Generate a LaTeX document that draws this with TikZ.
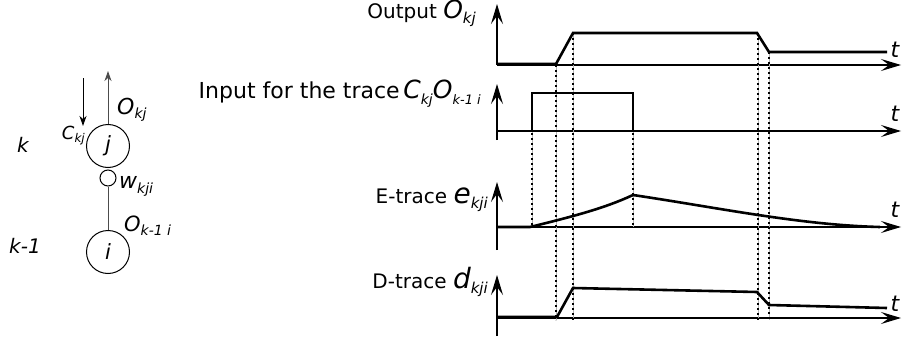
\documentclass[tikz,border=0pt]{standalone}
\usepackage{fontspec}
\setmainfont{DejaVu Sans}
\usetikzlibrary{arrows.meta}
\newcommand\mylbl[5]{{\fontsize{#1}{#1}\selectfont\itshape #3}\raisebox{-#5pt}{\fontsize{#2}{#2}\selectfont\itshape #4}}
\begin{document}
\begin{tikzpicture}[x=1pt,y=-1pt,
  axis/.style={line width=1.2pt,-{Stealth[length=20pt,width=12pt,inset=8pt]}},
  sig/.style={line width=2.6pt,line join=miter},
  guide/.style={line width=2pt,dash pattern=on 2pt off 3pt},
  guideline/.style={line width=0.5pt,black!30},
  conn/.style={line width=1pt,black!70},
  txt/.style={inner sep=0pt,font=\fontsize{20}{20}\selectfont},
  tl/.style={inner sep=0pt,font=\fontsize{22}{22}\selectfont\itshape}]
\useasboundingbox (0,0) rectangle (902,337);

% ---------- left neuron diagram ----------
\node[circle,draw,line width=1pt,minimum size=43pt,inner sep=0pt,font=\fontsize{21}{21}\selectfont\itshape] (j) at (108,146) {j};
\node[circle,draw,line width=1pt,minimum size=16pt,inner sep=0pt] (w) at (108,178) {};
\node[circle,draw,line width=1pt,minimum size=43pt,inner sep=0pt,font=\fontsize{21}{21}\selectfont\itshape] (i) at (108,252) {i};
\draw[conn] (w) -- (i);
\coordinate (otop) at (108,71);
\draw[conn,-{Stealth[length=10pt,width=7pt,inset=3pt]}] (j) -- (otop);
\coordinate (cs) at (83,78);
\coordinate (ce) at (83,126);
\draw[line width=1pt,-{Stealth[length=10pt,width=7pt,inset=3pt]}] (cs) -- (ce);
\node[inner sep=0pt,anchor=west] (okj) at (117,110) {\mylbl{22}{14}{O}{kj}{4}};
\node[inner sep=0pt,anchor=east] (ckj) at (85,136) {\mylbl{18}{12}{C}{kj}{3}};
\node[inner sep=0pt,anchor=west] (wkji) at (119,186) {\mylbl{22}{14}{w}{kji}{5}};
\node[inner sep=0pt,anchor=west] (oki) at (124,226) {\mylbl{21}{14}{O}{k-1 i}{4}};
\node[inner sep=0pt,font=\fontsize{20}{20}\selectfont\itshape] (k) at (23,145) {k};
\node[inner sep=0pt,font=\fontsize{20}{20}\selectfont\itshape] (k1) at (25,246) {k-1};

% ---------- axes ----------
\draw[axis] (497,65) -- (497,4);
\draw[axis] (497,65) -- (901,65);
\draw[axis] (497,140) -- (497,84);
\draw[axis] (497,131) -- (901,131);
\draw[axis] (497,250) -- (497,182);
\draw[axis] (497,227) -- (901,227);
\draw[axis] (497,336) -- (497,275);
\draw[axis] (497,318) -- (901,318);

% ---------- guide lines ----------
\foreach \x/\ya/\yb in {532/93/227, 556/65/320, 573/33/320, 633/93/227, 758/33/320, 769/52/320}{
  \draw[guideline] (\x,\ya) -- (\x,\yb);
  \draw[guide] (\x,\ya) -- (\x,\yb);
}

% ---------- signals ----------
\draw[sig] (497,64) -- (556,64) -- (573,33) -- (757,33) -- (769,52) -- (887,52);
\draw[sig] (497,131) -- (532,131) -- (532,93) -- (633,93) -- (633,131) -- (888,131);
\draw[sig] (497,227) -- (530,227) .. controls (575,216) and (605,208) .. (633,195)
  .. controls (720,208) and (800,225) .. (880,227);
\draw[sig] (497,317) -- (557,317) -- (573,288) -- (757,292) -- (769,305) -- (887,308);

% ---------- labels ----------
\node[txt,anchor=base east] (lo) at (476,19) {Output \mylbl{25}{15}{O}{kj}{5}};
\node[txt,anchor=base east,font=\fontsize{22}{22}\selectfont] (li) at (481,98) {Input for the trace\,\mylbl{25}{14}{C}{kj}{6}\mylbl{25}{13}{O}{k-1 i}{6}};
\node[txt,anchor=base east] (le) at (488,203) {E-trace \mylbl{28}{15}{e}{kji}{5}};
\node[txt,anchor=base east] (ld) at (488,288) {D-trace \mylbl{28}{15}{d}{kji}{5}};
\node[tl] (t1) at (895,50) {t};
\node[tl] (t2) at (895,114) {t};
\node[tl] (t3) at (895,210) {t};
\node[tl] (t4) at (895,304) {t};
\end{tikzpicture}
\end{document}
